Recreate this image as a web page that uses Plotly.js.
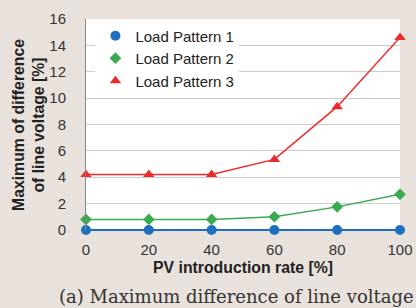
<!DOCTYPE html>
<html><head><meta charset="utf-8">
<script src="https://cdn.plot.ly/plotly-3.0.1.min.js"></script>
<style>html,body{margin:0;padding:0;background:#e9e1db;}</style>
</head><body><div id="chart" style="width:416px;height:308px;"></div>
<script>
const rates = [0, 20, 40, 60, 80, 100];
const lp1 = [0, 0, 0, 0, 0, 0];
const lp2 = [0.8, 0.8, 0.8, 1.0, 1.75, 2.7];
const lp3 = [4.2, 4.2, 4.2, 5.35, 9.35, 14.6];
const names = ["Load Pattern 1", "Load Pattern 2", "Load Pattern 3"];
const colors = ["#1f6fbf", "#3aaa4f", "#ee2a2a"];
const symbols = ["circle", "diamond", "triangle-up"];
const sizes = [10, 9, 10];
const widths = [2, 1.5, 1.5];
const series = [lp1, lp2, lp3];

const traces = [];
series.forEach((s, i) => {
  traces.push({x: rates, y: s, name: names[i], mode: "lines+markers", showlegend: false,
    line: {color: colors[i], width: widths[i]}, marker: {symbol: symbols[i], size: sizes[i], color: colors[i]}, cliponaxis: false});
});
series.forEach((s, i) => {
  traces.push({x: [null], y: [null], name: names[i], mode: "markers", showlegend: true,
    marker: {symbol: symbols[i], size: sizes[i], color: colors[i]}});
});
const layout = {
  width: 416, height: 308,
  paper_bgcolor: "#e9e1db", plot_bgcolor: "#ffffff",
  margin: {l: 86, r: 16, t: 19, b: 77},
  font: {family: "Liberation Sans, Arial, sans-serif", size: 15, color: "#222"},
  showlegend: true,
  legend: {x: 0.03, y: 0.998, xanchor: "left", yanchor: "top", bgcolor: "#ffffff", font: {size: 15, color: "#222"}, itemwidth: 30, tracegroupgap: 0},
  xaxis: {range: [0, 100], tickvals: rates, showgrid: false, zeroline: false, showline: false, ticks: "", tickfont: {size: 15, color: "#333"}, ticklabelstandoff: 8,
    title: {text: "<b>PV introduction rate [%]</b>", font: {size: 15.8}, standoff: 4}},
  yaxis: {range: [-0.08, 16], tickvals: [0, 2, 4, 6, 8, 10, 12, 14, 16], showgrid: true, gridcolor: "#cccccc", gridwidth: 1, zeroline: false, showline: true, linecolor: "#888", linewidth: 1, ticks: "", tickfont: {size: 15, color: "#333"}, ticklabelstandoff: 16,
    title: {text: "<b>Maximum of difference<br>of line voltage [%]</b>", font: {size: 15.8}, standoff: 0}},
  annotations: [{text: "(a) Maximum difference of line voltage", xref: "paper", yref: "paper", x: 0.478, y: -0.31, xanchor: "center", yanchor: "middle", showarrow: false,
    font: {family: "DejaVu Serif, Liberation Serif, serif", size: 18, color: "#333"}}]
};
Plotly.newPlot("chart", traces, layout, {displayModeBar: false, staticPlot: true});
</script></body></html>
